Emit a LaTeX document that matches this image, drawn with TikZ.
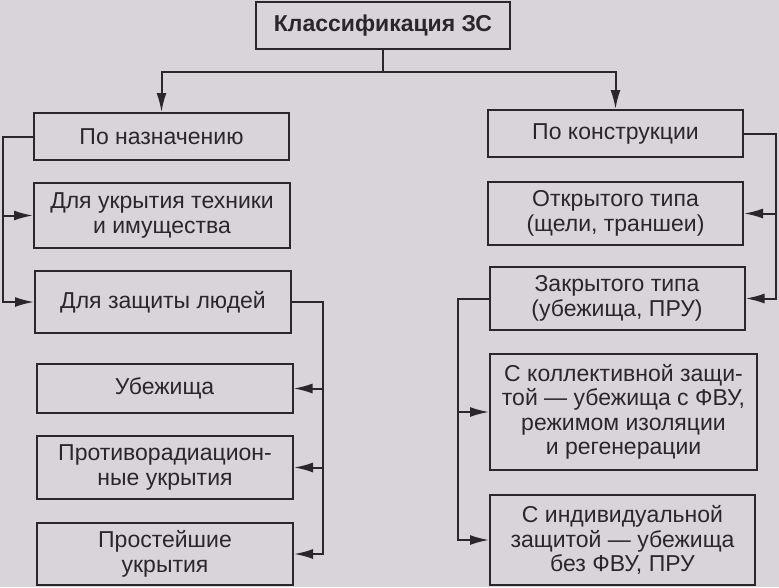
\documentclass[tikz,border=0pt]{standalone}
\usepackage{fontspec}
\setmainfont{Liberation Sans}
\usetikzlibrary{arrows.meta}
\definecolor{paper}{RGB}{216,212,218}
\definecolor{ink}{RGB}{42,38,44}
\begin{document}
\begin{tikzpicture}[x=1pt,y=-1pt,
  box/.style={draw=ink, line width=2pt, inner sep=0pt, align=center, text=ink,
    font=\fontsize{23}{24.5}\selectfont},
  conn/.style={draw=ink, line width=2pt},
  arr/.style={conn, -{Latex[length=19pt,width=10pt]}}]
\fill[paper] (0,0) rectangle (779,587);
\useasboundingbox (0,0) rectangle (779,587);
% title
\node[box, minimum width=254pt, minimum height=47pt, font=\fontsize{23}{24.5}\selectfont\bfseries] (title) at (383,25.5) {Классификация ЗС};
% left column
\node[box, minimum width=255pt, minimum height=47pt] (a1) at (161.5,136.5) {По назначению};
\node[box, minimum width=256pt, minimum height=65pt] (a2) at (162,215.5) {Для укрытия техники\\и имущества};
\node[box, minimum width=256pt, minimum height=62pt] (a3) at (163,302) {Для защиты людей};
\node[box, minimum width=256pt, minimum height=49pt] (a4) at (164.5,388.5) {Убежища};
\node[box, minimum width=256pt, minimum height=63pt] (a5) at (165,467.5) {Противорадиацион-\\ные укрытия};
\node[box, minimum width=256pt, minimum height=62pt] (a6) at (165,554) {Простейшие\\укрытия};
% right column
\node[box, minimum width=255pt, minimum height=47pt] (b1) at (615.5,133.5) {По конструкции};
\node[box, minimum width=255pt, minimum height=63pt] (b2) at (615.5,213.5) {Открытого типа\\(щели, траншеи)};
\node[box, minimum width=255pt, minimum height=63pt] (b3) at (617,298.5) {Закрытого типа\\(убежища, ПРУ)};
\node[box, minimum width=267pt, minimum height=116pt] (b4) at (623.5,412) {С коллективной защи-\\той — убежища с ФВУ,\\режимом изоляции\\и регенерации};
\node[box, minimum width=265pt, minimum height=90pt] (b5) at (622.5,540) {С индивидуальной\\защитой — убежища\\без ФВУ, ПРУ};
% bus coordinates
\coordinate (j) at (383,72);
\coordinate (lb) at (3,0);
\coordinate (mb) at (323,0);
\coordinate (rb) at (776,0);
\coordinate (cb) at (458,0);
% connectors
\draw[conn] (title.south) -- (j);
\draw[arr] (j) -| (a1.north);
\draw[arr] (j) -| (b1.north);
\draw[arr] (a1.west) -- (lb |- a1.west) |- (a3.west);
\draw[arr] (lb |- a2.west) -- (a2.west);
\draw[arr] (a3.east) -- (mb |- a3.east) |- (a6.east);
\draw[arr] (mb |- a4.east) -- (a4.east);
\draw[arr] (mb |- a5.east) -- (a5.east);
\draw[arr] (b1.east) -- (rb |- b1.east) |- (b3.east);
\draw[arr] (rb |- b2.east) -- (b2.east);
\draw[arr] (b3.west) -- (cb |- b3.west) |- (b5.west);
\draw[arr] (cb |- b4.west) -- (b4.west);
\end{tikzpicture}
\end{document}
